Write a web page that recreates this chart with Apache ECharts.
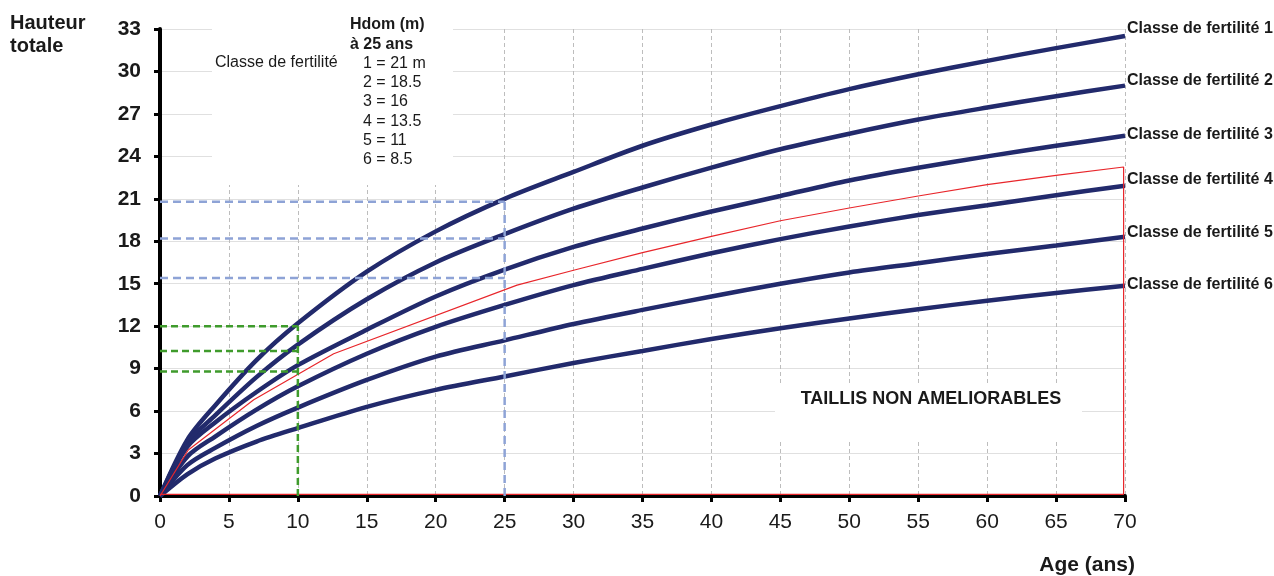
<!DOCTYPE html>
<html><head><meta charset="utf-8">
<script src="https://cdn.jsdelivr.net/npm/echarts@6/dist/echarts.min.js"></script>
<style>html,body{margin:0;padding:0;background:#fff}#c{width:1274px;height:576px}</style>
</head><body><div id="c"></div>
<script>
// ---- data ----
const ages   = [0, 2, 4, 7, 10, 15, 20, 25, 30, 35, 40, 45, 50, 55, 60, 65, 70];
const class1 = [0, 4.0, 6.4, 9.6, 12.2, 15.85, 18.7, 21.0, 22.9, 24.75, 26.25, 27.55, 28.75, 29.8, 30.75, 31.65, 32.5];
const class2 = [0, 3.75, 5.7, 8.4, 10.7, 13.9, 16.5, 18.5, 20.3, 21.8, 23.2, 24.5, 25.6, 26.6, 27.45, 28.25, 29.0];
const class3 = [0, 3.5, 5.2, 7.35, 9.25, 11.75, 14.1, 16.0, 17.6, 18.9, 20.1, 21.2, 22.3, 23.2, 24.0, 24.75, 25.45];
const class4 = [0, 2.8, 4.2, 6.1, 7.75, 10.05, 11.95, 13.5, 14.9, 16.05, 17.15, 18.15, 19.05, 19.85, 20.55, 21.25, 21.93];
const class5 = [0, 2.2, 3.4, 4.95, 6.25, 8.2, 9.85, 11.0, 12.15, 13.15, 14.1, 15.0, 15.8, 16.45, 17.1, 17.7, 18.32];
const class6 = [0, 1.55, 2.65, 3.85, 4.8, 6.3, 7.5, 8.45, 9.4, 10.25, 11.1, 11.85, 12.55, 13.2, 13.8, 14.35, 14.85];
const classNames = ['Classe de fertilité 1','Classe de fertilité 2','Classe de fertilité 3',
                    'Classe de fertilité 4','Classe de fertilité 5','Classe de fertilité 6'];
const redAges    = [0, 2.05, 6.8, 12.6, 25.9, 30, 35, 40, 45, 50, 55, 60, 65, 69.9, 69.9, 0];
const redHeights = [0, 3.25, 6.8, 10.05, 14.9, 15.95, 17.2, 18.35, 19.45, 20.35, 21.2, 22.0, 22.65, 23.25, 0.12, 0.12];
const blueGuideAge = 25;
const blueGuideHeights = [20.8, 18.2, 15.4];
const greenGuideAge = 10;
const greenGuideHeights = [12, 10.25, 8.8];
const legendTitle = ['Hdom (m)', 'à 25 ans'];
const legendLabel = 'Classe de fertilité';
const legendLines = ['1 = 21 m', '2 = 18.5', '3 = 16', '4 = 13.5', '5 = 11', '6 = 8.5'];
const zoneLabel = 'TAILLIS NON AMELIORABLES';
const yAxisTitle = 'Hauteur\ntotale';
const xAxisTitle = 'Age (ans)';
const xMin = 0, xMax = 70, xStep = 5;
const yMin = 0, yMax = 33, yStep = 3;

// ---- chart ----
const FONT = '"Liberation Sans", Arial, sans-serif';
const NAVY = '#222a6c';
const chart = echarts.init(document.getElementById('c'), null, {renderer: 'canvas'});
const curves = [class1, class2, class3, class4, class5, class6];
const endOffsets = [-7, -5, -1, -6, -4, -1];

const series = curves.map((vals, i) => ({
  type: 'line', name: classNames[i],
  data: ages.map((a, j) => [a, vals[j]]),
  smooth: 0.3, showSymbol: false, symbol: 'none',
  lineStyle: {color: NAVY, width: 4.5}, z: 3, silent: true,
  endLabel: {show: true, formatter: '{a}', color: '#1a1a1a', fontWeight: 'bold',
             fontSize: 16, fontFamily: FONT, distance: 2, offset: [0, endOffsets[i]]}
}));

series.push({
  type: 'line', name: 'red', data: redAges.map((a, j) => [a, redHeights[j]]),
  showSymbol: false, symbol: 'none', lineStyle: {color: '#e8262b', width: 1.2}, z: 4, silent: true
});

function guide(age, heights, color, dash) {
  const out = [];
  heights.forEach(h => out.push({
    type: 'line', data: [[xMin, h], [age, h]], showSymbol: false, symbol: 'none', silent: true,
    lineStyle: {color, width: 2.5, type: dash}, z: 5
  }));
  out.push({
    type: 'line', data: [[age, yMin], [age, Math.max(...heights)]], showSymbol: false, symbol: 'none', silent: true,
    lineStyle: {color, width: 2.5, type: dash}, z: 5
  });
  return out;
}
series.push(...guide(blueGuideAge, blueGuideHeights, '#8ea3d6', [8, 5]));
series.push(...guide(greenGuideAge, greenGuideHeights, '#3f9b2c', [7, 4]));

const graphics = [
  {type: 'rect', shape: {x: 212, y: 8, width: 241, height: 177}, style: {fill: '#fff'}, z: 1, silent: true},
  {type: 'rect', shape: {x: 775, y: 383, width: 307, height: 57}, style: {fill: '#fff'}, z: 1, silent: true},
  {type: 'text', x: 10, y: 12, z: 10, style: {text: yAxisTitle, font: 'bold 20px ' + FONT, fill: '#1a1a1a', lineHeight: 23}},
  {type: 'text', x: 1135, y: 565, z: 10, style: {text: xAxisTitle, font: 'bold 21px ' + FONT, fill: '#1a1a1a', align: 'right', verticalAlign: 'middle'}},
  {type: 'text', x: 931, y: 399, z: 10, style: {text: zoneLabel, font: 'bold 18px ' + FONT, fill: '#1a1a1a', align: 'center', verticalAlign: 'middle'}},
  {type: 'text', x: 215, y: 63, z: 10, style: {text: legendLabel, font: '16px ' + FONT, fill: '#1a1a1a', verticalAlign: 'middle'}},
  {type: 'text', x: 350, y: 25, z: 10, style: {text: legendTitle[0], font: 'bold 16px ' + FONT, fill: '#1a1a1a', verticalAlign: 'middle'}},
  {type: 'text', x: 350, y: 45, z: 10, style: {text: legendTitle[1], font: 'bold 16px ' + FONT, fill: '#1a1a1a', verticalAlign: 'middle'}}
];
legendLines.forEach((t, i) => graphics.push(
  {type: 'text', x: 363, y: 63.3 + i * 19.3, z: 10, style: {text: t, font: '16px ' + FONT, fill: '#1a1a1a', verticalAlign: 'middle'}}
));

chart.setOption({
  animation: false,
  backgroundColor: '#fff',
  grid: {left: 160, right: 149, top: 29, bottom: 80, containLabel: false},
  xAxis: {
    type: 'value', min: xMin, max: xMax, interval: xStep,
    axisLine: {show: true, onZero: false, lineStyle: {color: '#000', width: 4}},
    axisTick: {show: true, length: 6, lineStyle: {color: '#000', width: 3}},
    axisLabel: {color: '#1a1a1a', fontSize: 21, fontFamily: FONT, margin: 16},
    splitLine: {show: true, lineStyle: {color: '#bdbdbd', width: 1, type: [4, 3]}}
  },
  yAxis: {
    type: 'value', min: yMin, max: yMax, interval: yStep,
    axisLine: {show: true, onZero: false, lineStyle: {color: '#000', width: 4}},
    axisTick: {show: true, length: 6, lineStyle: {color: '#000', width: 3}},
    axisLabel: {color: '#1a1a1a', fontSize: 21, fontWeight: 'bold', fontFamily: FONT, margin: 19},
    splitLine: {show: true, lineStyle: {color: '#e0e0e0', width: 1}}
  },
  graphic: graphics,
  series
});
</script></body></html>
